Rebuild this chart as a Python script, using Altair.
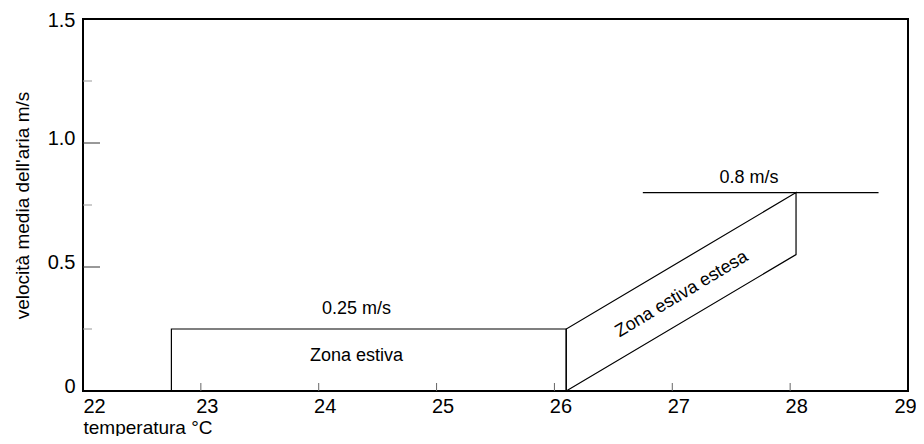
import altair as alt
import pandas as pd

# ---- data ----
x_tick_values = [22, 23, 24, 25, 26, 27, 28, 29]
y_label_values = [0, 0.5, 1.0, 1.5]
y_major_ticks = [0.5, 1.0]
y_minor_ticks = [0.25, 0.75, 1.25]
x_inner_ticks = [23, 24, 25, 26, 27, 28]

summer_x = [22.75, 22.75, 26.1, 26.1]
summer_y = [0, 0.25, 0.25, 0]
extended_x = [26.1, 26.1, 28.05, 28.05, 26.1]
extended_y = [0, 0.25, 0.8, 0.55, 0]
limit_x = [26.75, 28.75]
limit_y = [0.8, 0.8]

text_labels = ["0.25 m/s", "Zona estiva", "0.8 m/s"]
text_x = [24.32, 24.32, 27.65]
text_y = [0.33, 0.14, 0.86]
rot_label = ["Zona estiva estesa"]
rot_x = [27.08]
rot_y = [0.39]

# ---- tables ----
rows = []
for name, xs, ys in [("summer", summer_x, summer_y),
                     ("extended", extended_x, extended_y),
                     ("limit", limit_x, limit_y)]:
    for i, (a, b) in enumerate(zip(xs, ys)):
        rows.append({"shape": name, "order": i, "x": a, "y": b})
lines_df = pd.DataFrame(rows)
text_df = pd.DataFrame({"label": text_labels, "x": text_x, "y": text_y})
rot_df = pd.DataFrame({"label": rot_label, "x": rot_x, "y": rot_y})
ymaj_df = pd.DataFrame({"y": y_major_ticks})
ymin_df = pd.DataFrame({"y": y_minor_ticks})
xt_df = pd.DataFrame({"x": x_inner_ticks})

W, H = 825, 372
FONT = "Liberation Sans"

xscale = alt.Scale(domain=[22, 29], nice=False, zero=False)
yscale = alt.Scale(domain=[0, 1.5], nice=False)

xaxis = alt.Axis(
    values=x_tick_values, title="temperatura °C", ticks=False, domain=False,
    grid=False, labelFontSize=20, labelFont=FONT, labelColor="black",
    labelPadding=5, labelFlush=False,
    labelOffset={"condition": [{"test": "datum.value == 22", "value": 11},
                               {"test": "datum.value == 29", "value": -3}],
                 "value": 6},
    titleFontSize=19, titleFont=FONT, titleFontWeight="normal", titleColor="black",
    titleAnchor="start", titlePadding=2,
)
yaxis = alt.Axis(
    values=y_label_values, title="velocità media dell'aria m/s", ticks=False,
    domain=False, grid=False, labelFontSize=20, labelFont=FONT,
    labelColor="black", labelPadding=8, labelBaseline="middle",
    labelOffset={"condition": {"test": "datum.value == 1.5", "value": 1},
                 "value": -5},
    labelFlush=False,
    labelExpr="datum.value == 0 ? '0' : format(datum.value, '.1f')",
    titleFontSize=19, titleFont=FONT, titleFontWeight="normal",
    titleColor="black", titlePadding=15,
)

X = alt.X("x:Q", scale=xscale, axis=xaxis)
Y = alt.Y("y:Q", scale=yscale, axis=yaxis)

lines = alt.Chart(lines_df).mark_line(color="black", strokeWidth=1.2).encode(
    x=X, y=Y, detail="shape:N", order="order:Q"
)

texts = alt.Chart(text_df).mark_text(font=FONT, fontSize=18, color="black").encode(
    x=X, y=Y, text="label:N"
)

rot_text = alt.Chart(rot_df).mark_text(
    font=FONT, fontSize=18, color="black", angle=329
).encode(x=X, y=Y, text="label:N")

ymaj = alt.Chart(ymaj_df).mark_rule(color="#333333", strokeWidth=1).encode(
    y=Y, x=alt.value(0), x2=alt.value(17)
)
ymin = alt.Chart(ymin_df).mark_rule(color="#999999", strokeWidth=1).encode(
    y=Y, x=alt.value(0), x2=alt.value(9)
)
xt = alt.Chart(xt_df).mark_rule(color="#666666", strokeWidth=1).encode(
    x=X, y=alt.value(H), y2=alt.value(H - 8)
)

chart = alt.layer(lines, texts, rot_text, ymaj, ymin, xt).properties(
    width=W, height=H,
    background="white",
    autosize=alt.AutoSizeParams(type="none"),
    padding={"left": 75, "top": 11, "right": 8, "bottom": 45},
).configure_view(stroke="black", strokeWidth=2)

chart.save("out.html", embed_options={"renderer": "svg", "actions": False})
